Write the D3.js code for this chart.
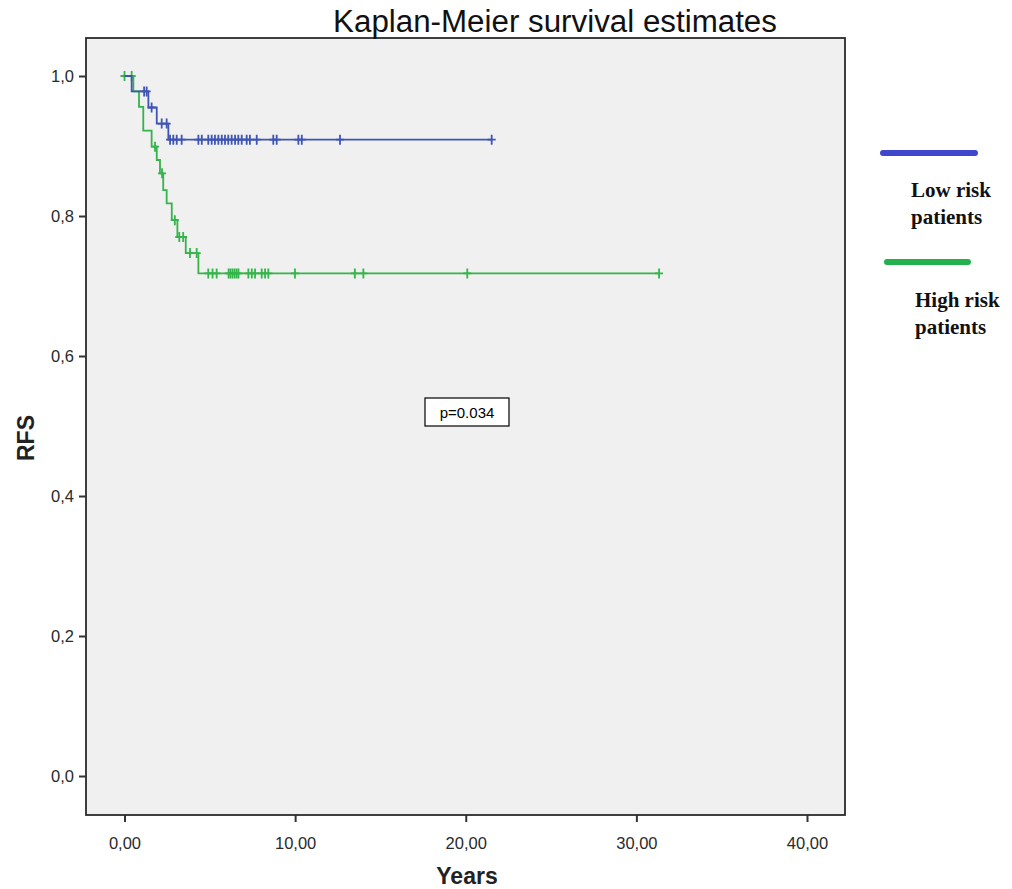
<!DOCTYPE html>
<html>
<head>
<meta charset="utf-8">
<script src="https://cdn.jsdelivr.net/npm/d3@7"></script>
<style>
  body { margin: 0; background: #fff; }
  .axis text { font-family: "Liberation Sans", Arial, sans-serif; font-size: 16.5px; fill: #2a2a2a; }
  .axis line { stroke: #333; stroke-width: 2; }
</style>
</head>
<body>
<svg id="chart" width="1012" height="889"></svg>
<script>
// Kaplan-Meier steps (years, RFS)
var lowEventTimes = [0.42, 1.40, 1.89, 2.57];
var lowEventSurv = [0.978, 0.955, 0.932, 0.909];
var lowCensorTimes = [1.15, 1.30, 1.59, 2.18, 2.47, 2.67, 2.86, 3.06, 3.35, 4.33, 4.53, 4.91, 5.11,
                      5.30, 5.50, 5.70, 5.89, 6.08, 6.28, 6.48, 6.67, 6.87, 7.16, 7.35, 7.75,
                      8.72, 8.92, 10.19, 10.39, 12.63, 21.52];

var highEventTimes = [0.52, 0.85, 1.10, 1.59, 1.89, 2.08, 2.27, 2.47, 2.77, 3.10, 3.59, 4.33];
var highEventSurv = [0.978, 0.956, 0.922, 0.899, 0.880, 0.861, 0.837, 0.818, 0.794, 0.770, 0.747, 0.718];
var highCensorTimes = [0.0, 0.42, 1.79, 2.20, 2.95, 3.21, 3.44, 3.84, 4.23, 4.91, 5.16, 5.40,
                       6.10, 6.21, 6.33, 6.45, 6.57, 6.68, 7.26, 7.46, 7.65, 8.04, 8.24, 8.43,
                       9.99, 13.50, 14.0, 20.09, 31.33];

var xTicks = [0, 10, 20, 30, 40];
var yTicks = [0, 0.2, 0.4, 0.6, 0.8, 1.0];

var svg = d3.select("#chart");

var box = { left: 86, top: 38, right: 845, bottom: 815 };

var x = d3.scaleLinear().domain([0, 40]).range([124.5, 807]);
var y = d3.scaleLinear().domain([0, 1]).range([776, 76]);

svg.append("rect")
    .attr("x", box.left).attr("y", box.top)
    .attr("width", box.right - box.left).attr("height", box.bottom - box.top)
    .attr("fill", "#f0f0f0")
    .attr("stroke", "#2b2b2b")
    .attr("stroke-width", 1.8);

// axes
var xAxis = svg.append("g")
    .attr("class", "axis")
    .attr("transform", "translate(0," + box.bottom + ")")
    .call(d3.axisBottom(x).tickValues(xTicks).tickSize(7).tickPadding(15)
        .tickFormat(function (d) { return d3.format(".2f")(d).replace(".", ","); }));
xAxis.select(".domain").remove();

var yAxis = svg.append("g")
    .attr("class", "axis")
    .attr("transform", "translate(" + box.left + ",0)")
    .call(d3.axisLeft(y).tickValues(yTicks).tickSize(7).tickPadding(5)
        .tickFormat(function (d) { return d3.format(".1f")(d).replace(".", ","); }));
yAxis.select(".domain").remove();

// curves
function stepPoints(times, surv, censor) {
    var last = Math.max(d3.max(times), d3.max(censor));
    var pts = [[0, 1]];
    times.forEach(function (t, i) { pts.push([t, surv[i]]); });
    pts.push([last, surv[surv.length - 1]]);
    return pts;
}

function survAt(times, surv, t) {
    var s = 1;
    times.forEach(function (e, i) { if (e <= t) s = surv[i]; });
    return s;
}

var line = d3.line()
    .x(function (d) { return x(d[0]); })
    .y(function (d) { return y(d[1]); })
    .curve(d3.curveStepAfter);

var groups = [
    { times: highEventTimes, surv: highEventSurv, censor: highCensorTimes, color: "#34b44a" },
    { times: lowEventTimes, surv: lowEventSurv, censor: lowCensorTimes, color: "#3e55b4" }
];

groups.forEach(function (g) {
    svg.append("path")
        .datum(stepPoints(g.times, g.surv, g.censor))
        .attr("fill", "none")
        .attr("stroke", g.color)
        .attr("stroke-width", 1.8)
        .attr("d", line);

    svg.append("g")
        .selectAll("path")
        .data(g.censor)
        .enter().append("path")
        .attr("fill", "none")
        .attr("stroke", g.color)
        .attr("stroke-width", 1.8)
        .attr("d", function (t) {
            var cx = x(t), cy = y(survAt(g.times, g.surv, t));
            return "M" + (cx - 4) + "," + cy + "H" + (cx + 4) +
                   "M" + cx + "," + (cy - 5) + "V" + (cy + 5);
        });
});

// p value
svg.append("rect")
    .attr("x", 425).attr("y", 398).attr("width", 84).attr("height", 28)
    .attr("fill", "#fff").attr("stroke", "#000").attr("stroke-width", 1.2);
svg.append("text")
    .attr("x", 467).attr("y", 418)
    .attr("text-anchor", "middle")
    .style("font-family", "Liberation Sans, Arial, sans-serif")
    .style("font-size", "15px")
    .text("p=0.034");

// titles (narrow look: scale a regular face down to the measured width)
var title = svg.append("text")
    .attr("text-anchor", "middle")
    .style("font-family", "Liberation Sans, Arial, sans-serif")
    .style("font-size", "31px")
    .style("fill", "#111")
    .text("Kaplan-Meier survival estimates");
var tw = title.node().getComputedTextLength();
title.attr("transform", "translate(555,32) scale(" + (444 / tw) + ",1)");

svg.append("text")
    .attr("x", 467).attr("y", 884)
    .attr("text-anchor", "middle")
    .style("font-family", "Liberation Sans, Arial, sans-serif")
    .style("font-size", "23px")
    .style("font-weight", "bold")
    .style("fill", "#222")
    .text("Years");

svg.append("text")
    .attr("transform", "translate(34,438) rotate(-90)")
    .attr("text-anchor", "middle")
    .style("font-family", "Liberation Sans, Arial, sans-serif")
    .style("font-size", "23px")
    .style("font-weight", "bold")
    .style("fill", "#222")
    .text("RFS");

// legend
var legendItems = [
    { lines: ["Low risk", "patients"], color: "#3f48cc", x1: 883, x2: 975, ly: 153, tx: 911, ty: 197 },
    { lines: ["High risk", "patients"], color: "#22b14c", x1: 887, x2: 968, ly: 262, tx: 915, ty: 307 }
];

legendItems.forEach(function (d) {
    svg.append("line")
        .attr("x1", d.x1).attr("x2", d.x2)
        .attr("y1", d.ly).attr("y2", d.ly)
        .attr("stroke", d.color)
        .attr("stroke-width", 6)
        .attr("stroke-linecap", "round");
    d.lines.forEach(function (txt, i) {
        svg.append("text")
            .attr("x", d.tx).attr("y", d.ty + i * 27)
            .style("font-family", "Liberation Serif, Times New Roman, serif")
            .style("font-size", "21px")
            .style("font-weight", "bold")
            .style("fill", "#111")
            .text(txt);
    });
});
</script>
</body>
</html>
